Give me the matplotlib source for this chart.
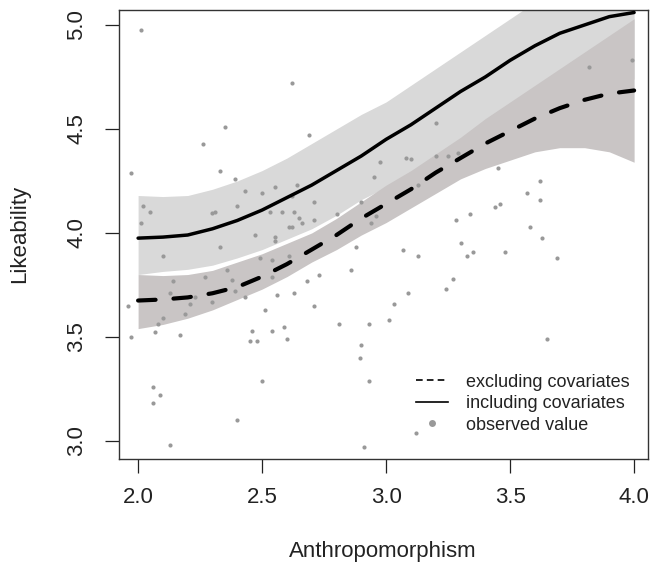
import numpy as np
import matplotlib
matplotlib.use("Agg")
import matplotlib.pyplot as plt
from matplotlib.lines import Line2D

plt.rcParams['font.family'] = ['Liberation Sans', 'DejaVu Sans']

# fitted curves
grid = [2.0, 2.1, 2.2, 2.3, 2.4, 2.5, 2.6, 2.7, 2.8, 2.9, 3.0,
        3.1, 3.2, 3.3, 3.4, 3.5, 3.6, 3.7, 3.8, 3.9, 4.0]
incl_fit = [3.975, 3.98, 3.99, 4.02, 4.06, 4.11, 4.17, 4.23, 4.30, 4.37, 4.45,
            4.52, 4.60, 4.68, 4.75, 4.83, 4.90, 4.96, 5.00, 5.04, 5.06]
incl_hi = [4.18, 4.175, 4.18, 4.21, 4.25, 4.30, 4.36, 4.43, 4.50, 4.57, 4.63,
           4.71, 4.79, 4.87, 4.95, 5.03, 5.11, 5.18, 5.25, 5.31, 5.36]
incl_lo = [3.80, 3.815, 3.825, 3.845, 3.88, 3.92, 3.97, 4.02, 4.085, 4.16, 4.22,
           4.28, 4.35, 4.42, 4.48, 4.54, 4.60, 4.65, 4.69, 4.72, 4.74]
excl_fit = [3.675, 3.68, 3.69, 3.71, 3.74, 3.79, 3.85, 3.92, 3.99, 4.07, 4.14,
            4.21, 4.29, 4.36, 4.43, 4.49, 4.55, 4.60, 4.64, 4.67, 4.685]
excl_hi = [3.80, 3.795, 3.80, 3.82, 3.86, 3.90, 3.95, 4.00, 4.07, 4.15, 4.23,
           4.30, 4.38, 4.46, 4.55, 4.63, 4.71, 4.79, 4.87, 4.95, 5.03]
excl_lo = [3.54, 3.56, 3.59, 3.63, 3.68, 3.73, 3.79, 3.86, 3.92, 3.99, 4.05,
           4.12, 4.19, 4.26, 4.31, 4.35, 4.39, 4.41, 4.41, 4.39, 4.34]

# observed values
obs_x = [2.01, 2.62, 2.35, 2.69, 2.26, 1.97, 2.33, 2.39, 2.976, 2.95, 2.43, 2.50,
         2.55, 2.64, 2.02, 2.05, 2.01, 2.30, 2.31, 2.40, 2.71, 2.90, 2.80, 2.94,
         2.96, 2.53, 2.58, 2.63, 2.65, 2.66, 2.61, 2.62, 2.71, 2.47, 2.55, 2.55,
         2.33, 2.88, 2.62, 2.10, 2.61, 2.14, 2.13, 2.27, 2.36, 2.38, 2.39, 2.49,
         2.54, 2.54, 2.68, 2.73, 2.63, 2.56, 2.43, 2.86, 1.96, 2.21, 2.23, 2.30,
         2.71, 2.51, 2.19, 2.10, 2.08, 2.07, 1.97, 2.17, 2.46, 2.54, 2.59, 2.45,
         2.48, 2.60, 2.81, 2.93, 2.90, 2.895, 2.93, 2.50, 2.06, 2.09, 2.06, 2.40,
         2.13, 2.91, 3.01, 3.08, 3.10, 3.20, 3.25, 3.29, 3.20, 3.45, 3.13, 3.44,
         3.46, 3.34, 3.28, 3.30, 3.07, 3.13, 3.325, 3.35, 3.48, 3.82, 3.99, 3.62,
         3.57, 3.62, 3.58, 3.63, 3.69, 3.27, 3.24, 3.09, 3.03, 3.65, 3.12]
obs_y = [4.975, 4.72, 4.51, 4.47, 4.43, 4.29, 4.30, 4.26, 4.34, 4.27, 4.20, 4.19,
         4.22, 4.23, 4.13, 4.10, 4.05, 4.095, 4.10, 4.13, 4.15, 4.15, 4.09, 4.05,
         4.08, 4.10, 4.10, 4.10, 4.07, 4.05, 4.03, 4.03, 4.06, 3.99, 3.98, 3.96,
         3.93, 3.93, 4.18, 3.89, 3.89, 3.77, 3.71, 3.79, 3.82, 3.775, 3.72, 3.88,
         3.87, 3.79, 3.77, 3.80, 3.71, 3.70, 3.69, 3.82, 3.65, 3.66, 3.69, 3.67,
         3.65, 3.63, 3.61, 3.59, 3.56, 3.525, 3.50, 3.51, 3.53, 3.53, 3.55, 3.48,
         3.48, 3.49, 3.56, 3.56, 3.46, 3.40, 3.29, 3.29, 3.26, 3.22, 3.18, 3.10,
         2.98, 2.97, 3.58, 4.36, 4.355, 4.37, 4.37, 4.385, 4.53, 4.31, 4.23, 4.125,
         4.14, 4.09, 4.06, 3.95, 3.92, 3.89, 3.89, 3.91, 3.91, 4.80, 4.83, 4.25,
         4.19, 4.16, 4.03, 3.975, 3.88, 3.78, 3.73, 3.71, 3.66, 3.49, 3.04]

xticks = [2.0, 2.5, 3.0, 3.5, 4.0]
yticks = [3.0, 3.5, 4.0, 4.5, 5.0]
labels = ["excluding covariates", "including covariates", "observed value"]

fig = plt.figure(figsize=(6.53, 5.72), dpi=100)
ax = fig.add_axes([119/653, 1 - 459/572, 529/653, 449/572])

ax.fill_between(grid, incl_lo, incl_hi, color='#d9d9d9', lw=0, zorder=1)
ax.fill_between(grid, excl_lo, excl_hi, color='#c9c5c5', lw=0, zorder=2)
ax.scatter(obs_x, obs_y, s=9, color='#999999', lw=0, zorder=3)
ax.plot(grid, incl_fit, color='black', lw=2.5, solid_capstyle='round', zorder=4)
ax.plot(grid, excl_fit, color='black', lw=3.0, ls=(0, (4.2, 4.3)),
        dash_capstyle='round', zorder=4)

ax.set_xlim(1.923, 4.056)
ax.set_ylim(2.913, 5.072)
ax.set_xticks(xticks)
ax.set_xticklabels([f"{v:.1f}" for v in xticks], fontsize=16)
ax.set_yticks(yticks)
ax.set_yticklabels([f"{v:.1f}" for v in yticks], fontsize=16,
                   rotation=90, va='center')
ax.tick_params(direction='out', length=10, width=0.9, colors='#222222')
ax.tick_params(axis='x', pad=10)
ax.tick_params(axis='y', pad=13)
for s in ax.spines.values():
    s.set_linewidth(1.0)
    s.set_color('#333333')

fig.text(383/653, 1 - 551/572, "Anthropomorphism", fontsize=16,
         ha='center', va='center', color='#222222')
fig.text(20/653, 1 - 234/572, "Likeability", fontsize=16, rotation=90,
         ha='center', va='center', color='#222222')

handles = [Line2D([], [], color='black', lw=1.2, ls=(0, (4, 2.5))),
           Line2D([], [], color='black', lw=1.2),
           Line2D([], [], color='#999999', ls='none', marker='o', ms=5,
                  mec='none')]
ax.legend(handles, labels, loc='upper left', bbox_to_anchor=(0.561, 0.19),
          frameon=False, fontsize=13, handlelength=1.8, handletextpad=1.0,
          labelspacing=0.25, borderpad=0, borderaxespad=0,
          labelcolor='#222222')

fig.savefig("out.png", dpi=100)
